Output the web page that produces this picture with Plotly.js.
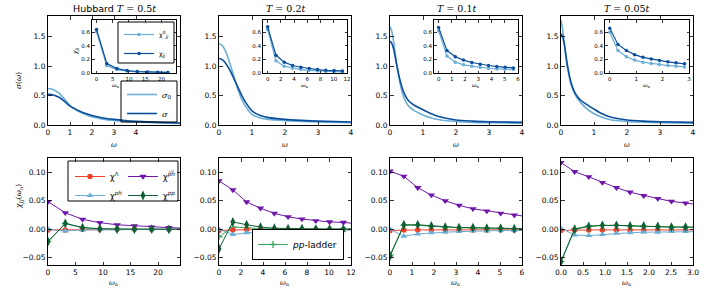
<!DOCTYPE html>
<html><head><meta charset="utf-8">
<script src="https://cdn.plot.ly/plotly-3.0.1.min.js"></script>
<style>html,body{margin:0;padding:0;background:#fff}</style>
</head><body><div id="chart" style="width:706px;height:295px"></div>
<script>
// ---------- DATA ----------
const titles = ['Hubbard <span style="font-family:DejaVu Serif"><i>T</i> = 0.5<i>t</i></span>',
  '<span style="font-family:DejaVu Serif"><i>T</i> = 0.2<i>t</i></span>',
  '<span style="font-family:DejaVu Serif"><i>T</i> = 0.1<i>t</i></span>',
  '<span style="font-family:DejaVu Serif"><i>T</i> = 0.05<i>t</i></span>'];

// sigma(omega), top row
const omega_T05  = [0, 0.25, 0.5, 0.75, 1, 1.25, 1.5, 1.75, 2, 2.5, 3, 3.5, 4, 5, 6];
const sigma0_T05 = [0.62, 0.60, 0.54, 0.44, 0.33, 0.26, 0.21, 0.17, 0.14, 0.10, 0.077, 0.062, 0.05, 0.036, 0.027];
const sigma_T05  = [0.52, 0.51, 0.47, 0.40, 0.32, 0.27, 0.225, 0.19, 0.16, 0.12, 0.095, 0.077, 0.064, 0.046, 0.034];

const omega_T02  = [0, 0.1, 0.2, 0.3, 0.4, 0.5, 0.6, 0.7, 0.8, 1.0, 1.25, 1.5, 2, 2.5, 3, 4];
const sigma0_T02 = [1.38, 1.35, 1.25, 1.10, 0.92, 0.73, 0.56, 0.42, 0.32, 0.18, 0.12, 0.095, 0.075, 0.062, 0.052, 0.04];
const sigma_T02  = [1.13, 1.11, 1.05, 0.96, 0.85, 0.73, 0.61, 0.49, 0.39, 0.24, 0.16, 0.125, 0.095, 0.078, 0.066, 0.05];

const omega_T01  = [0, 0.05, 0.1, 0.15, 0.2, 0.3, 0.4, 0.5, 0.6, 0.75, 1.0, 1.25, 1.5, 2, 2.5, 3, 4];
const sigma0_T01 = [1.67, 1.60, 1.45, 1.25, 1.05, 0.72, 0.50, 0.37, 0.30, 0.24, 0.17, 0.12, 0.09, 0.06, 0.045, 0.038, 0.03];
const sigma_T01  = [1.42, 1.39, 1.31, 1.18, 1.03, 0.77, 0.58, 0.46, 0.39, 0.33, 0.26, 0.19, 0.14, 0.085, 0.065, 0.055, 0.045];

const omega_T005  = [0, 0.05, 0.1, 0.15, 0.2, 0.3, 0.4, 0.5, 0.6, 0.75, 1.0, 1.25, 1.5, 2, 2.5, 3, 4];
const sigma0_T005 = [1.78, 1.62, 1.38, 1.15, 0.96, 0.70, 0.55, 0.45, 0.38, 0.29, 0.19, 0.13, 0.09, 0.06, 0.048, 0.04, 0.032];
const sigma_T005  = [1.55, 1.50, 1.37, 1.18, 1.00, 0.73, 0.57, 0.48, 0.42, 0.36, 0.27, 0.19, 0.135, 0.085, 0.065, 0.055, 0.045];

// chi_jj(omega_n), insets
const wn_T05 = [0, 3.14, 6.28, 9.42, 12.57, 15.71, 18.85, 21.99];
const chi0jj_T05 = [0.61, 0.11, 0.05, 0.028, 0.018, 0.012, 0.009, 0.007];
const chijj_T05  = [0.64, 0.14, 0.065, 0.035, 0.022, 0.015, 0.011, 0.009];

const wn_T02 = [0, 1.26, 2.51, 3.77, 5.03, 6.28, 7.54, 8.80, 10.05, 11.31];
const chi0jj_T02 = [0.64, 0.18, 0.10, 0.07, 0.05, 0.04, 0.03, 0.025, 0.02, 0.018];
const chijj_T02  = [0.68, 0.26, 0.16, 0.11, 0.085, 0.065, 0.05, 0.04, 0.035, 0.03];

const wn_T01 = [0, 0.63, 1.26, 1.88, 2.51, 3.14, 3.77, 4.40, 5.03, 5.65];
const chi0jj_T01 = [0.62, 0.25, 0.16, 0.12, 0.10, 0.08, 0.07, 0.06, 0.055, 0.05];
const chijj_T01  = [0.67, 0.33, 0.24, 0.19, 0.155, 0.13, 0.11, 0.095, 0.085, 0.075];

const wn_T005 = [0, 0.31, 0.63, 0.94, 1.26, 1.57, 1.88, 2.20, 2.51, 2.83];
const chi0jj_T005 = [0.60, 0.33, 0.24, 0.19, 0.16, 0.14, 0.125, 0.11, 0.10, 0.09];
const chijj_T005  = [0.66, 0.42, 0.33, 0.27, 0.23, 0.205, 0.185, 0.165, 0.15, 0.135];

// chi_JJ(omega_n) decomposition, bottom row (last point lies just beyond the axis)
const wnB_T05 = [0, 3.14, 6.28, 9.42, 12.57, 15.71, 18.85, 21.99, 25.13];
const chiL_T05   = [-0.001, -0.001, 0, 0, 0, 0, 0, 0, 0];
const chiPh_T05  = [0.0, -0.003, -0.001, -0.0005, -0.0003, -0.0002, -0.0001, -0.0001, 0];
const chiPhb_T05 = [0.0485, 0.029, 0.0175, 0.0117, 0.008, 0.006, 0.004, 0.003, 0.002];
const chiPp_T05  = [-0.0216, 0.0105, 0.003, 0.001, 0.0005, 0.0003, 0.0002, 0.0001, 0.0001];
const ppLad_T05  = [-0.021, 0.010, 0.003, 0.001, 0.0005, 0.0003, 0.0002, 0.0001, 0.0001];

const wnB_T02 = [0, 1.26, 2.51, 3.77, 5.03, 6.28, 7.54, 8.80, 10.05, 11.31, 12.57];
const chiL_T02   = [-0.002, -0.001, -0.0005, -0.0005, -0.0005, -0.0005, -0.0005, -0.0005, -0.0005, -0.0005, -0.0005];
const chiPh_T02  = [0.0, -0.009, -0.006, -0.004, -0.003, -0.002, -0.002, -0.001, -0.001, -0.001, -0.001];
const chiPhb_T02 = [0.085, 0.069, 0.048, 0.037, 0.028, 0.022, 0.018, 0.015, 0.013, 0.012, 0.010];
const chiPp_T02  = [-0.034, 0.013, 0.008, 0.004, 0.002, 0.001, 0.001, 0.0005, 0.0005, 0.0005, 0.0005];
const ppLad_T02  = [-0.013, 0.004, 0.003, 0.001, 0.001, 0.0005, 0.0005, 0.0005, 0.0005, 0.0005, 0.0005];

const wnB_T01 = [0, 0.63, 1.26, 1.88, 2.51, 3.14, 3.77, 4.40, 5.03, 5.65, 6.28];
const chiL_T01   = [-0.002, -0.001, -0.001, -0.001, -0.001, -0.001, -0.001, -0.001, -0.001, -0.001, -0.001];
const chiPh_T01  = [0.0, -0.012, -0.008, -0.006, -0.005, -0.004, -0.003, -0.003, -0.002, -0.002, -0.002];
const chiPhb_T01 = [0.102, 0.093, 0.073, 0.060, 0.050, 0.042, 0.036, 0.032, 0.028, 0.025, 0.022];
const chiPp_T01  = [-0.047, 0.008, 0.008, 0.006, 0.004, 0.003, 0.003, 0.002, 0.002, 0.001, 0.001];
const ppLad_T01  = [-0.045, 0.007, 0.007, 0.005, 0.004, 0.003, 0.002, 0.002, 0.002, 0.001, 0.001];

const wnB_T005 = [0, 0.31, 0.63, 0.94, 1.26, 1.57, 1.88, 2.20, 2.51, 2.83, 3.14];
const chiL_T005   = [-0.002, -0.001, -0.001, -0.001, -0.001, -0.001, -0.001, -0.001, -0.001, -0.001, -0.001];
const chiPh_T005  = [0.002, -0.010, -0.011, -0.009, -0.007, -0.006, -0.005, -0.005, -0.004, -0.004, -0.004];
const chiPhb_T005 = [0.117, 0.101, 0.092, 0.082, 0.073, 0.065, 0.059, 0.054, 0.049, 0.046, 0.043];
const chiPp_T005  = [-0.057, 0.0, 0.005, 0.007, 0.007, 0.006, 0.006, 0.005, 0.004, 0.004, 0.003];
const ppLad_T005  = [-0.056, 0.001, 0.006, 0.007, 0.007, 0.006, 0.005, 0.005, 0.004, 0.004, 0.004];

const panels = [
  {w: omega_T05, s0: sigma0_T05, s: sigma_T05, wn: wn_T05, c0: chi0jj_T05, c: chijj_T05, wb: wnB_T05, L: chiL_T05, ph: chiPh_T05, phb: chiPhb_T05, pp: chiPp_T05, lad: ppLad_T05},
  {w: omega_T02, s0: sigma0_T02, s: sigma_T02, wn: wn_T02, c0: chi0jj_T02, c: chijj_T02, wb: wnB_T02, L: chiL_T02, ph: chiPh_T02, phb: chiPhb_T02, pp: chiPp_T02, lad: ppLad_T02},
  {w: omega_T01, s0: sigma0_T01, s: sigma_T01, wn: wn_T01, c0: chi0jj_T01, c: chijj_T01, wb: wnB_T01, L: chiL_T01, ph: chiPh_T01, phb: chiPhb_T01, pp: chiPp_T01, lad: ppLad_T01},
  {w: omega_T005, s0: sigma0_T005, s: sigma_T005, wn: wn_T005, c0: chi0jj_T005, c: chijj_T005, wb: wnB_T005, L: chiL_T005, ph: chiPh_T005, phb: chiPhb_T005, pp: chiPp_T005, lad: ppLad_T005}
];

const topXRange = [[0, 6], [0, 4], [0, 4], [0, 4]];
const insetXRange = [[-1.4, 24.5], [-0.7, 12], [-0.35, 6], [-0.18, 3]];
const insetXTicks = [[0, 5, 10, 15, 20], [0, 2, 4, 6, 8, 10, 12], [0, 1, 2, 3, 4, 5, 6], [0, 1, 2, 3]];
const botXRange = [[0, 24], [0, 12], [0, 6], [0, 3]];
const botXTicks = [[0, 5, 10, 15, 20], [0, 2, 4, 6, 8, 10, 12], [0, 1, 2, 3, 4, 5, 6], [0, 0.5, 1, 1.5, 2, 2.5, 3]];

// ---------- STYLE / GEOMETRY ----------
const W = 706, H = 295;
const LIGHT = '#6baed6', DARK = '#0b4f9c', RED = '#f0402a', PURPLE = '#6e17a8', GREEN = '#0f6035', LGREEN = '#3aa65a';
const mainLeft = [48, 219, 390, 561], PW = 132;
const insetLabelX = [116 - 48, 305 - 219, 476 - 390, 647 - 561];
const px = v => v / W, py = v => 1 - v / H;

const base = {showline: true, linecolor: '#000', linewidth: 1, mirror: 'allticks', ticks: 'inside',
  ticklen: 3.5, tickwidth: 0.8, tickcolor: '#000', showgrid: false, zeroline: false,
  tickfont: {family: 'DejaVu Sans', size: 7.5, color: '#000'}, fixedrange: true};

const layout = {width: W, height: H, margin: {l: 0, r: 0, t: 0, b: 0}, paper_bgcolor: '#fff', plot_bgcolor: 'rgba(0,0,0,0)',
  showlegend: true, annotations: [], shapes: [], font: {family: 'DejaVu Sans', color: '#000'}};
const data = [];
const nm = n => (n === 1 ? '' : String(n));

for (let i = 0; i < 4; i++) {
  const p = panels[i];
  const L = mainLeft[i];
  const nT = i + 1, nI = i + 5, nB = i + 9;
  layout['xaxis' + nm(nT)] = Object.assign({}, base, {domain: [px(L), px(L + PW)], range: topXRange[i], tickvals: [0, 1, 2, 3, 4], anchor: 'y' + nm(nT)});
  layout['yaxis' + nm(nT)] = Object.assign({}, base, {domain: [py(125), py(16)], range: [0, 1.85], tickvals: [0, 0.5, 1, 1.5], tickformat: '.1f', anchor: 'x' + nm(nT)});
  layout['xaxis' + nI] = Object.assign({}, base, {domain: [px(L + 44), px(L + 128)], range: insetXRange[i], tickvals: insetXTicks[i], anchor: 'y' + nI, ticklen: 2.5, tickfont: {family: 'DejaVu Sans', size: 5.5, color: '#000'}});
  layout['yaxis' + nI] = Object.assign({}, base, {domain: [py(73), py(20)], range: [0, 0.78], tickvals: [0, 0.2, 0.4, 0.6], tickformat: '.1f', anchor: 'x' + nI, ticklen: 2.5, tickfont: {family: 'DejaVu Sans', size: 5.5, color: '#000'}});
  layout['xaxis' + nB] = Object.assign({}, base, {domain: [px(L), px(L + PW)], range: botXRange[i], tickvals: botXTicks[i], tickformat: i === 3 ? '.1f' : '', anchor: 'y' + nB});
  layout['yaxis' + nB] = Object.assign({}, base, {domain: [py(265), py(158)], range: [-0.0625, 0.125], tickvals: [-0.05, 0, 0.05, 0.1], tickformat: '.2f', anchor: 'x' + nB});

  const first = i === 0;
  data.push({x: p.w, y: p.s0, xaxis: 'x' + nm(nT), yaxis: 'y' + nm(nT), mode: 'lines', line: {color: LIGHT, width: 1.6, shape: 'spline', smoothing: 0.8},
    name: '<i>σ</i><sub>0</sub>', legend: 'legend5', showlegend: first});
  data.push({x: p.w, y: p.s, xaxis: 'x' + nm(nT), yaxis: 'y' + nm(nT), mode: 'lines', line: {color: DARK, width: 1.6, shape: 'spline', smoothing: 0.8},
    name: '<i>σ</i>', legend: 'legend5', showlegend: first});
  data.push({x: p.wn, y: p.c0, xaxis: 'x' + nI, yaxis: 'y' + nI, mode: 'lines+markers', line: {color: LIGHT, width: 1.2}, marker: {size: 3.5, color: LIGHT},
    name: 'χ<sup>0</sup><sub><i>jj</i></sub>', legend: 'legend4', showlegend: first});
  data.push({x: p.wn, y: p.c, xaxis: 'x' + nI, yaxis: 'y' + nI, mode: 'lines+markers', line: {color: DARK, width: 1.2}, marker: {size: 3.5, color: DARK},
    name: 'χ<sub><i>jj</i></sub>', legend: 'legend4', showlegend: first});
  const bx = 'x' + nB, by = 'y' + nB;
  data.push({x: p.wb, y: p.lad, xaxis: bx, yaxis: by, mode: 'lines+markers', line: {color: LGREEN, width: 1},
    marker: {symbol: 'cross-thin', size: 5, line: {color: LGREEN, width: 1.3}}, name: '<i>pp</i>-ladder', legend: 'legend3', showlegend: i === 1});
  data.push({x: p.wb, y: p.L, xaxis: bx, yaxis: by, mode: 'lines+markers', line: {color: RED, width: 1}, marker: {symbol: 'circle', size: 5.5, color: RED},
    name: 'χ<sup>Λ</sup>', legend: 'legend', showlegend: first});
  data.push({x: p.wb, y: p.ph, xaxis: bx, yaxis: by, mode: 'lines+markers', line: {color: LIGHT, width: 1}, marker: {symbol: 'triangle-up', size: 6, color: LIGHT},
    name: 'χ<sup><i>ph</i></sup>', legend: 'legend', showlegend: first});
  data.push({x: p.wb, y: p.phb, xaxis: bx, yaxis: by, mode: 'lines+markers', line: {color: PURPLE, width: 1}, marker: {symbol: 'triangle-down', size: 6.5, color: PURPLE},
    name: 'χ<sup><i>p\u0305h\u0305</i></sup>', legend: 'legend2', showlegend: first});
  data.push({x: p.wb, y: p.pp, xaxis: bx, yaxis: by, mode: 'lines+markers', line: {color: GREEN, width: 1}, marker: {symbol: 'diamond-tall', size: 7, color: GREEN},
    name: 'χ<sup><i>pp</i></sup>', legend: 'legend2', showlegend: first});

  layout.annotations.push({text: titles[i], xref: 'paper', yref: 'paper', x: px(L + PW / 2), y: py(9), xanchor: 'center', yanchor: 'middle', showarrow: false,
    font: {family: 'DejaVu Sans', size: 9.5, color: '#000'}});
  layout.annotations.push({text: '<i>ω</i>', xref: 'paper', yref: 'paper', x: px(L + PW / 2), y: py(145), xanchor: 'center', yanchor: 'middle', showarrow: false,
    font: {family: 'DejaVu Serif', size: 7, color: '#000'}});
  layout.annotations.push({text: '<i>ω</i><sub>n</sub>', xref: 'paper', yref: 'paper', x: px(L + PW / 2), y: py(283), xanchor: 'center', yanchor: 'middle', showarrow: false,
    font: {family: 'DejaVu Serif', size: 7, color: '#000'}});
  layout.annotations.push({text: '<i>ω</i><sub>n</sub>', xref: 'paper', yref: 'paper', x: px(L + insetLabelX[i]), y: py(85), xanchor: 'center', yanchor: 'middle', showarrow: false,
    font: {family: 'DejaVu Serif', size: 5.5, color: '#000'}});
}
layout.annotations.push({text: '<i>σ</i>(<i>ω</i>)', xref: 'paper', yref: 'paper', x: px(12), y: py(70), textangle: -90, showarrow: false,
  font: {family: 'DejaVu Serif', size: 7.5, color: '#000'}});
layout.annotations.push({text: '<i>χ</i><sub><i>JJ</i></sub>(<i>ω</i><sub>n</sub>)', xref: 'paper', yref: 'paper', x: px(12), y: py(211), textangle: -90, showarrow: false,
  font: {family: 'DejaVu Serif', size: 7.5, color: '#000'}});
layout.annotations.push({text: '<i>χ</i><sub><i>jj</i></sub>', xref: 'paper', yref: 'paper', x: px(69), y: py(45), textangle: -90, showarrow: false,
  font: {family: 'DejaVu Serif', size: 6, color: '#000'}});

const legFont = {family: 'DejaVu Sans', size: 8, color: '#000'};
const clear = 'rgba(255,255,255,0)';
layout.legend = {x: px(70), y: py(162), xanchor: 'left', yanchor: 'top', bgcolor: clear, borderwidth: 0, font: legFont, tracegroupgap: 0};
layout.legend2 = {x: px(123), y: py(162), xanchor: 'left', yanchor: 'top', bgcolor: clear, borderwidth: 0, font: legFont, tracegroupgap: 0};
layout.legend3 = {x: px(344), y: py(260), xanchor: 'right', yanchor: 'bottom', bgcolor: '#fff', bordercolor: '#000', borderwidth: 1, font: {family: 'DejaVu Sans', size: 9, color: '#000'}};
layout.legend4 = {x: px(174), y: py(20), xanchor: 'right', yanchor: 'top', bgcolor: clear, borderwidth: 0, font: {family: 'DejaVu Sans', size: 6.5, color: '#000'}};
layout.legend5 = {x: px(177), y: py(80), xanchor: 'right', yanchor: 'top', bgcolor: clear, borderwidth: 0, font: {family: 'DejaVu Serif', size: 8, color: '#000'}};
// legend frames
layout.shapes.push({type: 'rect', xref: 'paper', yref: 'paper', x0: px(68), x1: px(178), y0: py(161), y1: py(201), line: {color: '#000', width: 1}, fillcolor: '#fff', layer: 'below'});
layout.shapes.push({type: 'rect', xref: 'paper', yref: 'paper', x0: px(118), x1: px(174), y0: py(22), y1: py(63), line: {color: '#000', width: 1}, fillcolor: '#fff', layer: 'above'});
layout.shapes.push({type: 'rect', xref: 'paper', yref: 'paper', x0: px(121), x1: px(177), y0: py(81), y1: py(122), line: {color: '#000', width: 1}, fillcolor: 'rgba(0,0,0,0)', layer: 'above'});

Plotly.newPlot('chart', data, layout, {staticPlot: true, displayModeBar: false});
</script></body></html>
